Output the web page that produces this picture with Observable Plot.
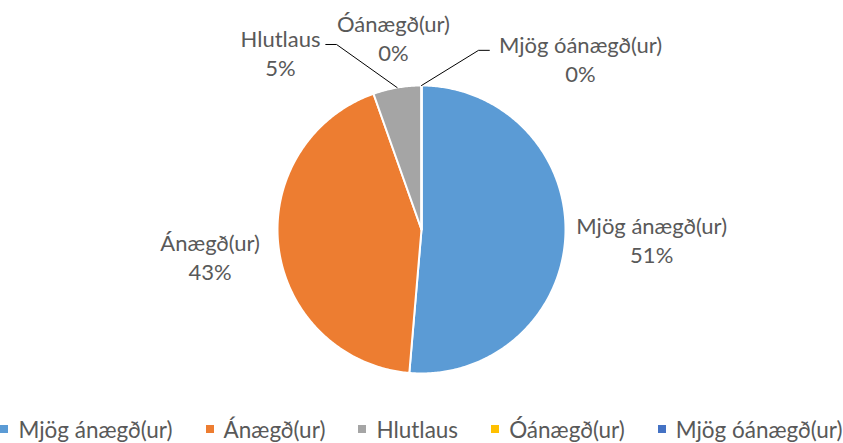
<!DOCTYPE html>
<html>
<head>
<meta charset="utf-8">
<script src="https://cdn.jsdelivr.net/npm/d3@7"></script>
<script src="https://cdn.jsdelivr.net/npm/@observablehq/plot@0.6"></script>
<style>
  html, body { margin: 0; padding: 0; background: #fff; }
  #chart { width: 843px; }
  body .lg-swatches { font-family: Lato, sans-serif; font-size: 22.5px; color: #595959; justify-content: center; margin: 0; min-height: 28px; }
  body .lg-swatch { margin-right: 33px; }
  body .lg-swatch:last-child { margin-right: 0; }
  body .lg-swatch > svg { margin-right: 10px; }
</style>
</head>
<body>
<div id="chart"></div>
<script>
// ---- data ----
const categories = ["Mjög ánægð(ur)", "Ánægð(ur)", "Hlutlaus", "Óánægð(ur)", "Mjög óánægð(ur)"];
const shares = [51.35, 43.24, 5.41, 0, 0];          // percent
const percentLabels = ["51%", "43%", "5%", "0%", "0%"];
const colors = ["#5B9BD5", "#ED7D31", "#A5A5A5", "#FFC000", "#4472C4"];

// ---- label layout (angle shift in degrees, radius in units of pie radius) ----
const labelShift = [0, 0, -28.8, -8.3, 42.9];
const labelRadius = [1.6, 1.48, 1.571, 1.347, 1.622];
const leaderSide = [0, 0, 1, 0, -1];     // 1: leader leaves label to the right, -1: to the left, 0: none
const leaderGap = [0, 0, 0.389, 0, 0.708];
const leaderRun = 0.075;

const rows = categories.map((c, i) => ({name: c, value: shares[i], i}));
const arcs = d3.pie().sort(null).value(d => d.value).startAngle(0).endAngle(2 * Math.PI)(rows);

const polar = (a, r) => [r * Math.sin(a), r * Math.cos(a)];

// polygons for slices
const slicePts = [];
for (const a of arcs) {
  const n = Math.max(2, Math.ceil((a.endAngle - a.startAngle) / 0.01));
  slicePts.push({name: a.data.name, x: 0, y: 0});
  for (let k = 0; k <= n; k++) {
    const t = a.startAngle + (a.endAngle - a.startAngle) * k / n;
    const [x, y] = polar(t, 1);
    slicePts.push({name: a.data.name, x, y});
  }
  slicePts.push({name: a.data.name, x: 0, y: 0});
}

// labels
const labels = arcs.map((a, i) => {
  const mid = (a.startAngle + a.endAngle) / 2 + labelShift[i] * Math.PI / 180;
  const [x, y] = polar(mid, labelRadius[i]);
  return {x, y, text: categories[i] + "\n" + percentLabels[i], i, mid: (a.startAngle + a.endAngle) / 2};
});

// leader lines: slice edge -> elbow -> short horizontal run toward the label
const leaders = [];
labels.forEach((l, i) => {
  if (!leaderSide[i]) return;
  const [sx, sy] = polar(l.mid, 1.0);
  const ex = l.x + leaderSide[i] * leaderGap[i];
  const ey = l.y + 0.056;
  leaders.push({k: i, x: sx, y: sy});
  leaders.push({k: i, x: ex, y: ey});
  leaders.push({k: i, x: ex - leaderSide[i] * leaderRun, y: ey});
});

const R = 144, W = 843, H = 415, cx = 421, cy = 229;

const plot = Plot.plot({
  width: W,
  height: H,
  margin: 0,
  x: {domain: [-cx / R, (W - cx) / R], axis: null},
  y: {domain: [-(H - cy) / R, cy / R], axis: null},
  color: {domain: categories, range: colors},
  style: {fontFamily: "Lato, sans-serif", background: "#fff"},
  marks: [
    Plot.line(slicePts, {x: "x", y: "y", z: "name", fill: "name", stroke: "#fff", strokeWidth: 2, strokeLinejoin: "round", curve: "linear"}),
    Plot.line(leaders, {x: "x", y: "y", z: "k", stroke: "#000", strokeWidth: 1}),
    Plot.text(labels, {x: "x", y: "y", text: "text", fill: "#595959", fontSize: 22, lineHeight: 1.32, textAnchor: "middle"})
  ]
});

document.getElementById("chart").appendChild(plot);
const legend = plot.legend("color", {swatchSize: 8, className: "lg"});
document.getElementById("chart").appendChild(legend);
</script>
</body>
</html>
